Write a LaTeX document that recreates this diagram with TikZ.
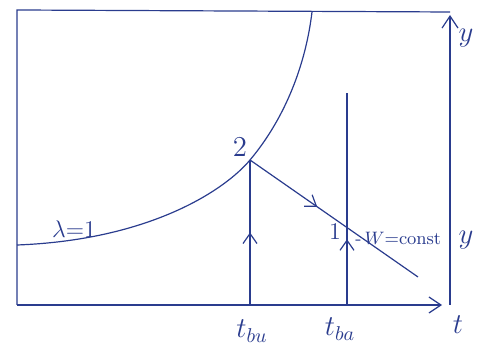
\documentclass[tikz,border=0pt]{standalone}
\usetikzlibrary{arrows.meta,decorations.markings}
\definecolor{Ink}{HTML}{2A3C8E}
\tikzset{
  ink/.style={Ink,line width=0.6pt},
  lbl/.style={text=Ink,font=\Large,inner sep=1pt},
  midarr/.style={postaction={decorate},decoration={markings,
    mark=at position #1 with {\arrow{Straight Barb[length=5pt,width=7pt]}}}},
}

\begin{document}
\begin{tikzpicture}[x=0.5pt,y=-0.5pt]
\useasboundingbox (0,0) rectangle (486,356);
% frame and axes
\coordinate (O) at (17,305);
\coordinate (TL) at (17,10);
\coordinate (TR) at (450,12);
\coordinate (tend) at (442,305);
\coordinate (ybot) at (450,305);
\coordinate (ytop) at (450,15);
\draw[ink] (O) -- (TL) -- (TR);
\draw[ink,-{Straight Barb[length=6pt,width=8pt]}] (O) -- (tend);
\draw[ink,-{Straight Barb[length=6pt,width=8pt]}] (ybot) -- (ytop);
% curve lambda=1
\coordinate (P2) at (250,160);
\draw[ink] (17,245) .. controls (150,240) and (225,190) .. (P2)
  .. controls (282,122) and (305,70) .. (312,12);
% lines
\coordinate (F2) at (250,305);
\coordinate (F1) at (347,305);
\coordinate (T1) at (347,93);
\coordinate (D) at (418,277);
\draw[ink,midarr=0.5] (F2) -- (P2);
\draw[ink,midarr=0.31] (F1) -- (T1);
\draw[ink,midarr=0.4] (P2) -- (D);
% labels
\node[lbl] (n2) at (240,147) {$2$};
\node[lbl,font=\large] (n1) at (335,232) {$1$};
\node[lbl,anchor=west] (w) at (353,238) {\small-\,$W{=}\mathrm{const}$};
\node[lbl,font=\large] (lam) at (74,229) {$\lambda{=}1$};
\node[lbl] (tbu) at (252,331) {$t_{bu}$};
\node[lbl] (tba) at (340,329) {$t_{ba}$};
\node[lbl] (t) at (458,325) {$t$};
\node[lbl] (y1) at (466,38) {$y$};
\node[lbl] (y2) at (466,240) {$y$};
\end{tikzpicture}
\end{document}
